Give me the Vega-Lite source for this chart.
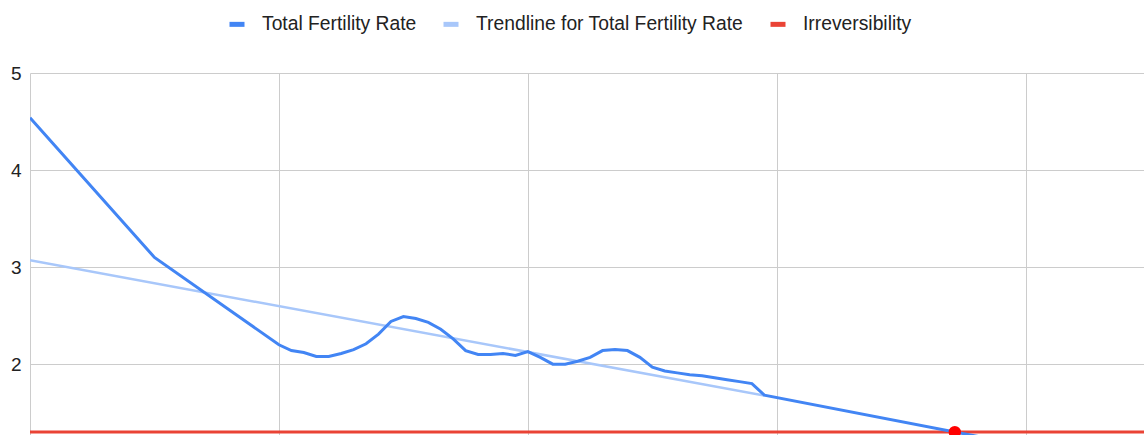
{
  "$schema": "https://vega.github.io/schema/vega-lite/v6.json",
  "width": 1114,
  "height": 362,
  "autosize": {"type": "none"},
  "padding": {"left": 30, "top": 73, "right": 0, "bottom": 0},
  "background": "white",
  "config": {"view": {"stroke": null}, "font": "Liberation Sans"},
  "datasets": {
    "series": [
      {"year": 1960, "value": 1.3, "series": "Irreversibility"},
      {"year": 2049.5, "value": 1.3, "series": "Irreversibility"},
      {"year": 1960, "value": 3.07, "series": "Trendline for Total Fertility Rate"},
      {"year": 2019, "value": 1.676, "series": "Trendline for Total Fertility Rate"},
      {"year": 1960, "value": 4.54, "series": "Total Fertility Rate"},
      {"year": 1970, "value": 3.10, "series": "Total Fertility Rate"},
      {"year": 1980, "value": 2.20, "series": "Total Fertility Rate"},
      {"year": 1981, "value": 2.14, "series": "Total Fertility Rate"},
      {"year": 1982, "value": 2.12, "series": "Total Fertility Rate"},
      {"year": 1983, "value": 2.08, "series": "Total Fertility Rate"},
      {"year": 1984, "value": 2.08, "series": "Total Fertility Rate"},
      {"year": 1985, "value": 2.11, "series": "Total Fertility Rate"},
      {"year": 1986, "value": 2.15, "series": "Total Fertility Rate"},
      {"year": 1987, "value": 2.21, "series": "Total Fertility Rate"},
      {"year": 1988, "value": 2.31, "series": "Total Fertility Rate"},
      {"year": 1989, "value": 2.44, "series": "Total Fertility Rate"},
      {"year": 1990, "value": 2.49, "series": "Total Fertility Rate"},
      {"year": 1991, "value": 2.47, "series": "Total Fertility Rate"},
      {"year": 1992, "value": 2.43, "series": "Total Fertility Rate"},
      {"year": 1993, "value": 2.36, "series": "Total Fertility Rate"},
      {"year": 1994, "value": 2.26, "series": "Total Fertility Rate"},
      {"year": 1995, "value": 2.14, "series": "Total Fertility Rate"},
      {"year": 1996, "value": 2.10, "series": "Total Fertility Rate"},
      {"year": 1997, "value": 2.10, "series": "Total Fertility Rate"},
      {"year": 1998, "value": 2.11, "series": "Total Fertility Rate"},
      {"year": 1999, "value": 2.09, "series": "Total Fertility Rate"},
      {"year": 2000, "value": 2.13, "series": "Total Fertility Rate"},
      {"year": 2001, "value": 2.07, "series": "Total Fertility Rate"},
      {"year": 2002, "value": 2.00, "series": "Total Fertility Rate"},
      {"year": 2003, "value": 2.00, "series": "Total Fertility Rate"},
      {"year": 2004, "value": 2.03, "series": "Total Fertility Rate"},
      {"year": 2005, "value": 2.07, "series": "Total Fertility Rate"},
      {"year": 2006, "value": 2.14, "series": "Total Fertility Rate"},
      {"year": 2007, "value": 2.15, "series": "Total Fertility Rate"},
      {"year": 2008, "value": 2.14, "series": "Total Fertility Rate"},
      {"year": 2009, "value": 2.07, "series": "Total Fertility Rate"},
      {"year": 2010, "value": 1.97, "series": "Total Fertility Rate"},
      {"year": 2011, "value": 1.93, "series": "Total Fertility Rate"},
      {"year": 2012, "value": 1.91, "series": "Total Fertility Rate"},
      {"year": 2013, "value": 1.89, "series": "Total Fertility Rate"},
      {"year": 2014, "value": 1.88, "series": "Total Fertility Rate"},
      {"year": 2015, "value": 1.86, "series": "Total Fertility Rate"},
      {"year": 2016, "value": 1.84, "series": "Total Fertility Rate"},
      {"year": 2017, "value": 1.82, "series": "Total Fertility Rate"},
      {"year": 2018, "value": 1.80, "series": "Total Fertility Rate"},
      {"year": 2019, "value": 1.68, "series": "Total Fertility Rate"},
      {"year": 2040, "value": 1.16, "series": "Total Fertility Rate"}
    ],
    "marker": [
      {"year": 2034.3, "value": 1.3}
    ]
  },
  "encoding": {
    "x": {
      "field": "year",
      "type": "quantitative",
      "scale": {"domain": [1960, 2049.5], "nice": false, "zero": false},
      "axis": {
        "values": [1960, 1980, 2000, 2020, 2040],
        "labels": false,
        "ticks": false,
        "domain": false,
        "grid": true,
        "gridColor": "#cccccc",
        "title": null
      }
    },
    "y": {
      "field": "value",
      "type": "quantitative",
      "scale": {"domain": [1.27, 5], "nice": false, "zero": false},
      "axis": {
        "values": [2, 3, 4, 5],
        "ticks": false,
        "domain": false,
        "grid": true,
        "gridColor": "#cccccc",
        "labelFontSize": 19,
        "labelColor": "#222222",
        "labelPadding": 9,
        "title": null
      }
    }
  },
  "layer": [
    {
      "data": {"name": "series"},
      "transform": [{"filter": "datum.series === 'Irreversibility'"}],
      "mark": {"type": "line", "strokeWidth": 3, "clip": true},
      "encoding": {
        "color": {
          "field": "series",
          "type": "nominal",
          "scale": {
            "domain": ["Total Fertility Rate", "Trendline for Total Fertility Rate", "Irreversibility"],
            "range": ["#4285f4", "#a8c7fa", "#ea4335"]
          },
          "legend": {
            "orient": "none",
            "legendX": 197,
            "legendY": -59,
            "direction": "horizontal",
            "title": null,
            "symbolType": "stroke",
            "symbolSize": 225,
            "labelFontSize": 19.3,
            "labelColor": "#222222",
            "labelOffset": 15,
            "columnPadding": 16,
            "labelLimit": 500,
            "padding": 0,
            "encode": {"symbols": {"update": {"strokeWidth": {"value": 5}}}}
          }
        }
      }
    },
    {
      "data": {"name": "series"},
      "transform": [{"filter": "datum.series === 'Trendline for Total Fertility Rate'"}],
      "mark": {"type": "line", "strokeWidth": 2.5, "clip": true},
      "encoding": {"color": {"field": "series", "type": "nominal"}}
    },
    {
      "data": {"name": "series"},
      "transform": [{"filter": "datum.series === 'Total Fertility Rate'"}],
      "mark": {"type": "line", "strokeWidth": 3, "clip": true},
      "encoding": {"color": {"field": "series", "type": "nominal"}}
    },
    {
      "data": {"name": "marker"},
      "mark": {"type": "point", "filled": true, "opacity": 1, "size": 154, "color": "#ff0000", "clip": true}
    }
  ]
}
